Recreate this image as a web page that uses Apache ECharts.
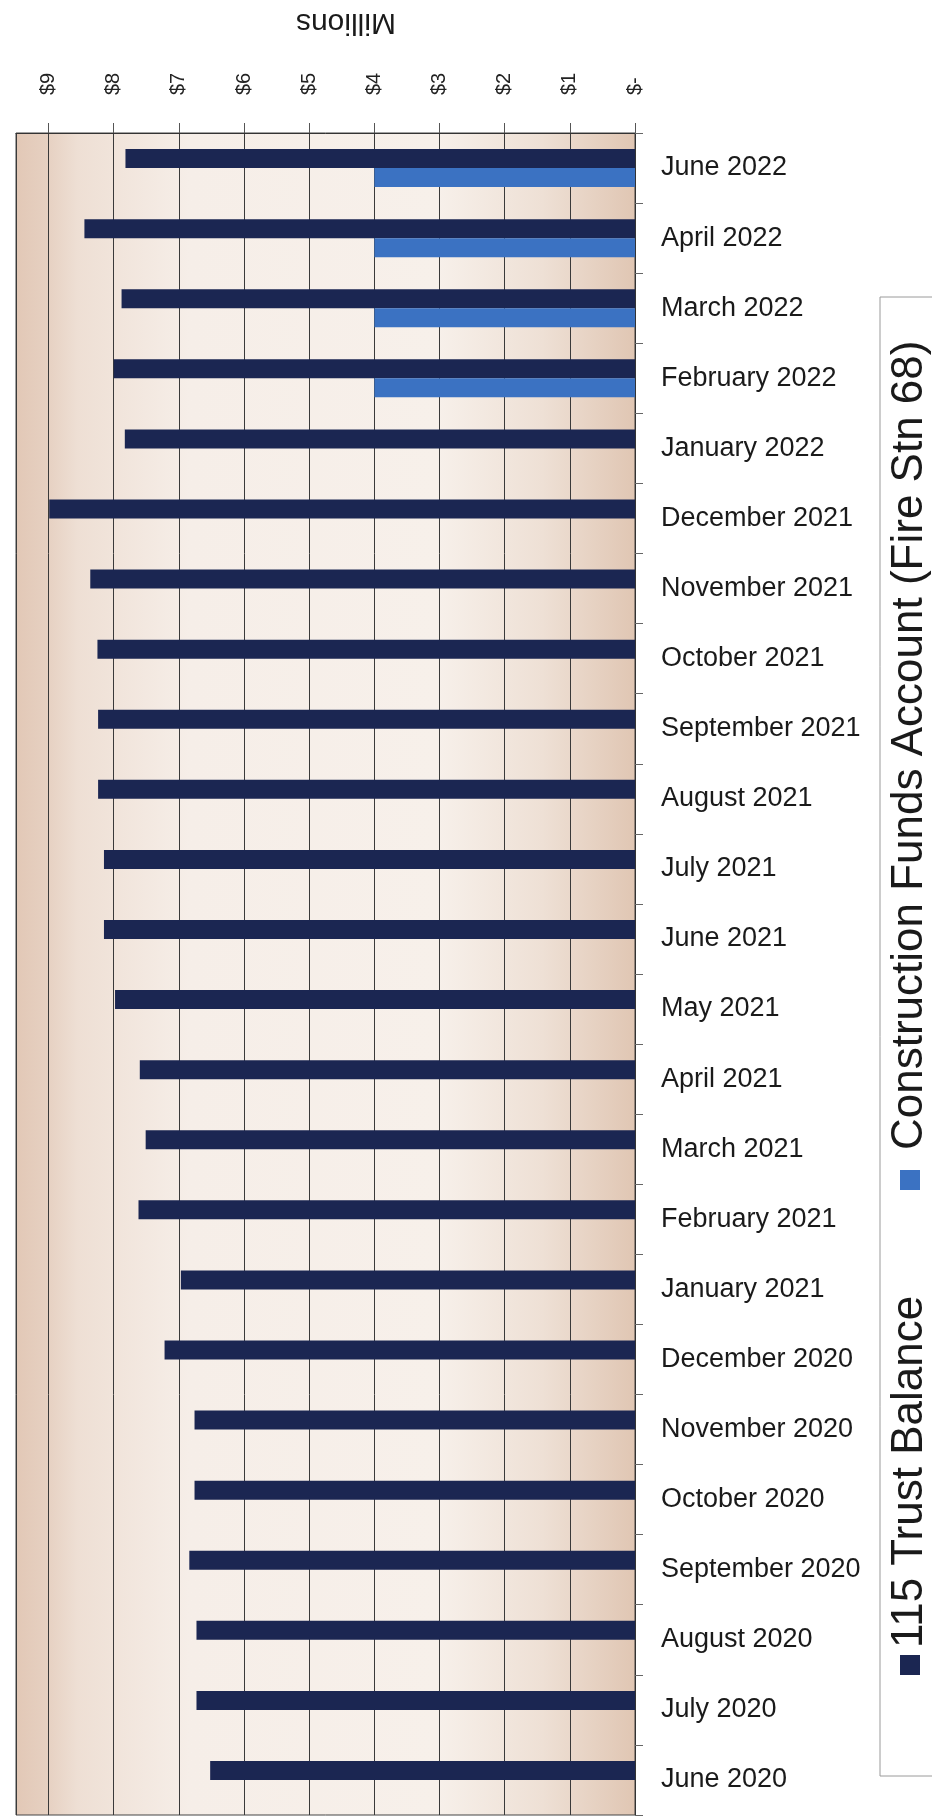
<!DOCTYPE html>
<html>
<head>
<meta charset="utf-8">
<script src="https://cdn.jsdelivr.net/npm/echarts@6/dist/echarts.min.js"></script>
<style>
html,body{margin:0;padding:0;background:#fff;}
#chart{width:932px;height:1819px;}
</style>
</head>
<body>
<div id="chart"></div>
<script>
var categories = ['June 2022','April 2022','March 2022','February 2022','January 2022','December 2021','November 2021','October 2021','September 2021','August 2021','July 2021','June 2021','May 2021','April 2021','March 2021','February 2021','January 2021','December 2020','November 2020','October 2020','September 2020','August 2020','July 2020','June 2020'];
var trustBalance = [7.82,8.45,7.88,8.00,7.83,8.99,8.36,8.25,8.24,8.24,8.15,8.15,7.98,7.60,7.51,7.62,6.97,7.22,6.76,6.76,6.84,6.73,6.73,6.52];
var constructionFunds = [4.0,4.0,4.0,4.0,null,null,null,null,null,null,null,null,null,null,null,null,null,null,null,null,null,null,null,null];
var seriesNames = ['115 Trust Balance','Construction Funds Account (Fire Stn 68)'];
var valueTickLabels = ['$-','$1','$2','$3','$4','$5','$6','$7','$8','$9'];
var axisTitle = 'Millions';

var FONT = '"Liberation Sans", Arial, sans-serif';
var colors = ['#1b2652','#3b72c2'];

var chart = echarts.init(document.getElementById('chart'), null, {renderer:'canvas'});
chart.setOption({
  animation: false,
  backgroundColor: '#ffffff',
  grid: {
    left: 16, right: 297, top: 133, bottom: 4,
    show: true,
    borderColor: '#444', borderWidth: 1,
    backgroundColor: {
      type: 'linear', x: 0, y: 0, x2: 1, y2: 0,
      colorStops: [
        {offset: 0, color: '#e2c8b6'},
        {offset: 0.05, color: '#e6d0c1'},
        {offset: 0.1, color: '#eedfd4'},
        {offset: 0.28, color: '#f6eee8'},
        {offset: 0.68, color: '#f7f0ea'},
        {offset: 0.85, color: '#eee0d5'},
        {offset: 1, color: '#e0c6b3'}
      ]
    }
  },
  xAxis: {
    type: 'value', position: 'top', inverse: true,
    min: 0, max: 9.5, interval: 1,
    axisLine: {show: true, lineStyle: {color: '#333', width: 1}},
    axisTick: {show: true, length: 10, inside: false, lineStyle: {color: '#555'}},
    splitLine: {show: true, lineStyle: {color: '#3a3a3a', width: 1}},
    axisLabel: {
      rotate: -90, margin: 38, fontSize: 20, color: '#222', fontFamily: FONT,
      showMaxLabel: false,
      formatter: function (v) { var s = valueTickLabels[v]; return s === undefined ? '' : s; }
    }
  },
  yAxis: {
    type: 'category', position: 'right', inverse: true,
    data: categories,
    axisLine: {show: true, lineStyle: {color: '#333', width: 1}},
    axisTick: {show: true, length: 8, inside: false, lineStyle: {color: '#666'}},
    splitLine: {show: false},
    axisLabel: {margin: 26, fontSize: 27, color: '#1a1a1a', fontFamily: FONT}
  },
  series: [
    {name: seriesNames[0], type: 'bar', data: trustBalance, barWidth: 19, barGap: '0%',
     itemStyle: {color: colors[0]}},
    {name: seriesNames[1], type: 'bar', data: constructionFunds, barWidth: 19, barGap: '0%',
     itemStyle: {color: colors[1]}}
  ],
  graphic: [
    {
      type: 'text', x: 346, y: 22, rotation: Math.PI,
      style: {text: axisTitle, font: '30px ' + FONT, fill: '#1a1a1a', align: 'center', verticalAlign: 'middle'}
    },
    {
      type: 'group', x: 880, y: 1776, rotation: Math.PI / 2,
      children: [
        {type: 'rect', shape: {x: 0, y: 0, width: 1479, height: 80},
         style: {fill: '#ffffff', stroke: '#9a9a9a', lineWidth: 1}},
        {type: 'rect', shape: {x: 101, y: 20, width: 20, height: 20}, style: {fill: colors[0]}},
        {type: 'text', x: 128, y: 30,
         style: {text: seriesNames[0], font: '44px ' + FONT, fill: '#1a1a1a', align: 'left', verticalAlign: 'middle'}},
        {type: 'rect', shape: {x: 586, y: 20, width: 20, height: 20}, style: {fill: colors[1]}},
        {type: 'text', x: 626, y: 30,
         style: {text: seriesNames[1], font: '44px ' + FONT, fill: '#1a1a1a', align: 'left', verticalAlign: 'middle'}}
      ]
    }
  ]
});
</script>
</body>
</html>
